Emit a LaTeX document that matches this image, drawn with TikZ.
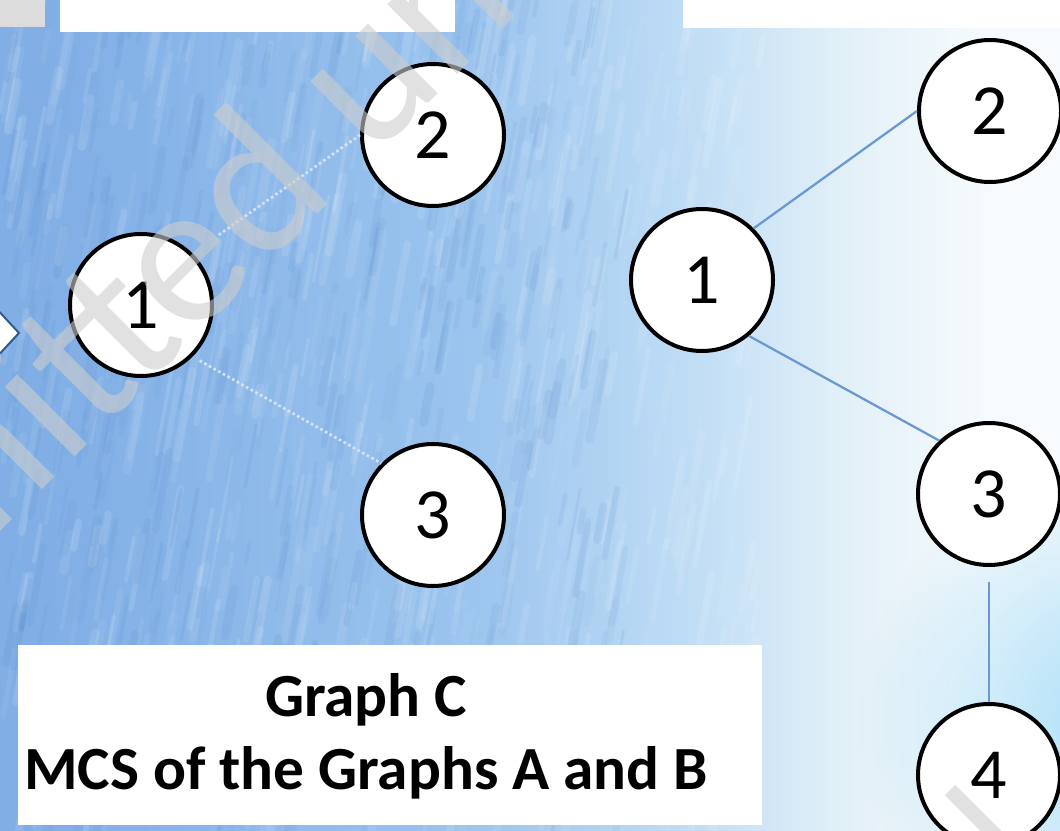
\documentclass[tikz,border=0pt]{standalone}
\usepackage{fontspec}
\setmainfont{Carlito}
\usetikzlibrary{calc,fadings}
\definecolor{bg0}{RGB}{95,145,205}
\definecolor{bg1}{RGB}{108,157,216}
\definecolor{bg2}{RGB}{130,176,230}
\definecolor{bg3}{RGB}{155,196,238}
\definecolor{bg4}{RGB}{190,220,245}
\definecolor{bg5}{RGB}{226,240,248}
\definecolor{bg6}{RGB}{246,250,252}
\definecolor{bg7}{RGB}{250,252,253}
\definecolor{bg8}{RGB}{238,247,252}
\definecolor{cyanish}{RGB}{170,222,248}
\definecolor{streakdark}{RGB}{75,125,195}
\definecolor{edgeblue}{RGB}{105,152,210}
\definecolor{dotedge}{RGB}{215,226,240}
\definecolor{chev}{RGB}{50,90,145}
\definecolor{wmgray}{RGB}{205,205,205}
\definecolor{sqgray}{RGB}{220,220,220}
\pgfdeclarehorizontalshading{bgshade}{100bp}{color(0bp)=(bg0); color(21bp)=(bg1); color(39.5bp)=(bg2); color(48.4bp)=(bg3); color(53.2bp)=(bg4); color(56.8bp)=(bg5); color(60bp)=(bg6); color(71.1bp)=(bg7); color(100bp)=(bg8)}
\tikzfading[name=softround, inner color=transparent!0, outer color=transparent!100]
\tikzset{
  vtx/.style={circle, draw=black, line width=3pt, fill=white, minimum size=106.5pt, inner sep=0pt, font=\fontsize{54}{54}\selectfont},
  ledge/.style={draw=dotedge, line width=2pt, dotted},
  redge/.style={draw=edgeblue, line width=1.7pt},
  wm/.style={wmgray, opacity=0.6},
  whitebox/.style={fill=white, draw=none, inner sep=0pt, anchor=north west}
}
\begin{document}
\begin{tikzpicture}[x=0.75pt, y=-0.75pt]
\useasboundingbox (0,0) rectangle (1060,831);
\clip (0,0) rectangle (1060,831);
% background
\shade[shading=bgshade, rotate around={-12:(700,400)}] (-400,-400) rectangle (1500,1300);
\fill[cyanish, path fading=softround] (1120,720) circle (260);
\pgfmathsetseed{7}
\foreach \i in {1,...,500}{
  \pgfmathsetmacro{\sx}{rnd*760}
  \pgfmathsetmacro{\sy}{rnd*860}
  \pgfmathsetmacro{\sl}{20+rnd*70}
  \pgfmathsetmacro{\so}{0.04+rnd*0.09}
  \pgfmathsetmacro{\sw}{2+rnd*5}
  \draw[white, opacity=\so, line width=\sw pt, line cap=round] (\sx,\sy) -- ++(0.18*\sl,-\sl);
}
\foreach \i in {1,...,400}{
  \pgfmathsetmacro{\sx}{rnd*620}
  \pgfmathsetmacro{\sy}{rnd*860}
  \pgfmathsetmacro{\sl}{20+rnd*60}
  \pgfmathsetmacro{\so}{0.04+rnd*0.08}
  \pgfmathsetmacro{\sw}{2+rnd*5}
  \draw[streakdark, opacity=\so, line width=\sw pt, line cap=round] (\sx,\sy) -- ++(0.18*\sl,-\sl);
}
% top boxes
\fill[sqgray] (0,0) rectangle (45,27);
\node[whitebox, minimum width=296pt, minimum height=23.5pt] (topleft) at (60,0) {};
\node[whitebox, minimum width=284pt, minimum height=20.5pt] (topright) at (683,0) {};
% chevron at left edge
\filldraw[fill=white, draw=chev, line width=1.5pt] (-6,306) -- (19,333) -- (-6,360);
% left graph (Graph C)
\node[vtx] (l1) at (141,305) {1};
\node[vtx] (l2) at (433,135) {2};
\node[vtx] (l3) at (433,515) {3};
\draw[ledge, shorten <=24pt] (l1.45) -- (l2.west);
\draw[ledge, shorten <=6pt] (l1.-45) -- (l3.135);
% right graph
\node[vtx] (r1) at (702,280) {1};
\node[vtx] (r2) at (990,111) {2};
\node[vtx] (r3) at (989,494) {3};
\node[vtx] (r4) at (989,775) {4};
\draw[redge] (r1.45) -- (r2.west);
\draw[redge] (r1.-50) -- (r3.133);
\draw[redge, line width=2.2pt, shorten <=11pt] (r3.south) -- (r4.north);
% caption box
\node[whitebox, minimum width=558pt, minimum height=135pt] (capbox) at (18,645) {};
\node[font=\bfseries\fontsize{46}{55}\selectfont, align=center, inner sep=0pt] (cap) at (366,736) {Graph C\\MCS of the Graphs A and B};
% watermark
\node[wm, rotate=45, anchor=base, inner sep=0pt, font=\fontsize{155}{155}\selectfont] (wmark) at (236,296) {mitted un};
\draw[wm, line width=11pt] (950,790) -- (1005,845);
\end{tikzpicture}
\end{document}
